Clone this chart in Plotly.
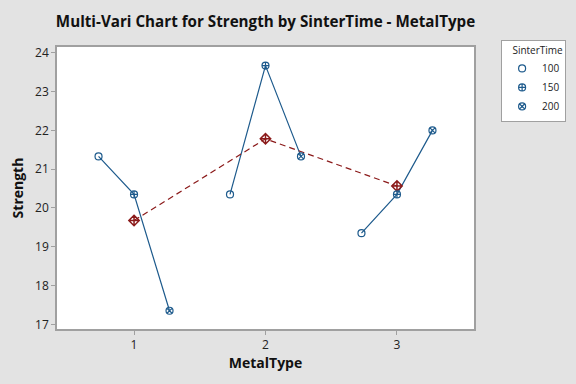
import plotly.graph_objects as go

metal_types = [1, 2, 3]
sinter_times = [100, 150, 200]
strength_100 = [21.33, 20.35, 19.35]
strength_150 = [20.35, 23.67, 20.35]
strength_200 = [17.35, 21.33, 22.0]
series = {100: strength_100, 150: strength_150, 200: strength_200}
offsets = {100: -0.27, 150: 0.0, 200: 0.27}
symbols = {100: "circle-open", 150: "circle-cross-open", 200: "circle-x-open"}

blue = "#1d5a8c"
red = "#8b1a1a"
font = "Open Sans"

fig = go.Figure()

# lines within each metal type
for i, m in enumerate(metal_types):
    xs = [m + offsets[s] for s in sinter_times]
    ys = [series[s][i] for s in sinter_times]
    fig.add_trace(go.Scatter(x=xs, y=ys, mode="lines",
                             line=dict(color=blue, width=1.2),
                             showlegend=False, hoverinfo="skip"))

# means connected across metal types
means = [sum(series[s][i] for s in sinter_times) / len(sinter_times)
         for i in range(len(metal_types))]
fig.add_trace(go.Scatter(x=metal_types, y=means, mode="lines+markers",
                         line=dict(color=red, width=1.2, dash="6px,4px"),
                         marker=dict(symbol="diamond-cross-open", size=8,
                                     color=red, line=dict(width=1.5, color=red)),
                         showlegend=False))

# markers per sinter time
for s in sinter_times:
    fig.add_trace(go.Scatter(x=[m + offsets[s] for m in metal_types], y=series[s],
                             mode="markers", name=str(s),
                             marker=dict(symbol=symbols[s], size=7, color=blue,
                                         line=dict(width=1.2, color=blue))))

fig.update_layout(
    width=576, height=384,
    paper_bgcolor="#e3e3e3", plot_bgcolor="white",
    margin=dict(l=57, r=102, t=47, b=55, autoexpand=False),
    font=dict(family=font, color="#222", size=12),
    title=dict(text="<b>Multi-Vari Chart for Strength by SinterTime - MetalType</b>",
               x=(57 + 474) / 2 / 576, xanchor="center", y=1 - 22 / 384, yanchor="middle",
               font=dict(size=15.2, family=font, color="#111")),
    legend=dict(x=1.065, y=1.025, xanchor="left", yanchor="top",
                bgcolor="white", bordercolor="#a0a0a0", borderwidth=1,
                font=dict(size=10, family=font, color="#222"),
                title=dict(text="SinterTime", side="top right",
                           font=dict(size=10, family=font, color="#222")),
                itemwidth=30, tracegroupgap=0),
    xaxis=dict(range=[0.414, 3.586], tickvals=metal_types, ticktext=[str(m) for m in metal_types],
               showgrid=False, zeroline=False, showline=True, linecolor="#a0a0a0", linewidth=1.5,
               mirror=True, ticks="outside", ticklen=4, tickcolor="#a0a0a0",
               title=dict(text="<b>MetalType</b>", font=dict(size=14, family=font, color="#111"),
                          standoff=6)),
    yaxis=dict(range=[16.88, 24.15], dtick=1, tick0=17,
               showgrid=False, zeroline=False, showline=True, linecolor="#a0a0a0", linewidth=1.5,
               mirror=True, ticks="outside", ticklen=4, tickcolor="#a0a0a0",
               title=dict(text="<b>Strength</b>", font=dict(size=14, family=font, color="#111"),
                          standoff=8)),
)

fig.write_html("out.html", config={"displayModeBar": False},
               post_script="document.body.style.margin='0';document.body.style.background='#e3e3e3';")
